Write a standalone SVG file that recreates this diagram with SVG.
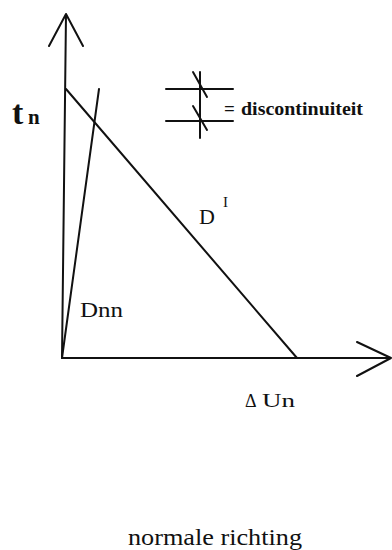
<svg xmlns="http://www.w3.org/2000/svg" width="392" height="550" viewBox="0 0 392 550">
<style>
.ln{fill:none;stroke:#111;stroke-width:2;stroke-linecap:round;stroke-linejoin:round}
.t{font-family:"Liberation Serif","DejaVu Serif",serif;fill:#111}
</style>
<rect width="392" height="550" fill="#fff"/>
<g id="axes">
<path class="ln" d="M62,358 L66,14 M49,46 L66,14 L83,46"/>
<path class="ln" d="M62,358 L391,358 M357,342 L391,358 L357,376"/>
</g>
<g id="connectors">
<path class="ln" d="M66,89 L297,358"/>
<path class="ln" d="M62,358 L99,89"/>
</g>
<g id="legend">
<path class="ln" d="M166,89 L233,89 M166,121 L233,121 M200,72 L200,138 M193,72 L207,97 M193,106 L207,130" stroke-width="1.8"/>
<text class="t" x="224" y="115" font-size="19" font-weight="bold">=</text>
<text class="t" x="241" y="115" font-size="19" font-weight="bold" textLength="122" lengthAdjust="spacingAndGlyphs">discontinuiteit</text>
</g>
<g id="labels">
<text class="t" x="12" y="124" font-size="34" font-weight="bold">t</text>
<text class="t" x="28" y="124" font-size="21" font-weight="bold">n</text>
<text class="t" x="199" y="224" font-size="22">D</text>
<text class="t" x="223" y="207" font-size="15">I</text>
<text class="t" x="80" y="317" font-size="21" textLength="43" lengthAdjust="spacingAndGlyphs">Dnn</text>
<text class="t" x="245" y="407" font-size="18">Δ</text>
<text class="t" x="262" y="407" font-size="18" textLength="33" lengthAdjust="spacingAndGlyphs">Un</text>
<text class="t" x="128" y="545" font-size="24" textLength="174" lengthAdjust="spacingAndGlyphs">normale richting</text>
</g>
</svg>
